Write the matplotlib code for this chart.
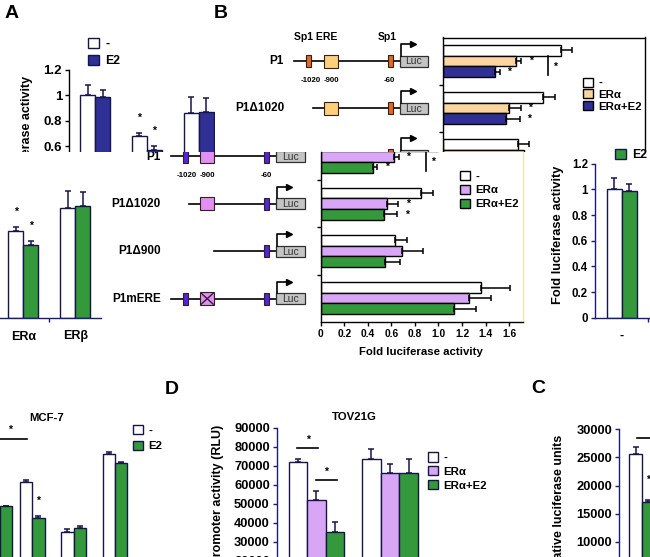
import numpy as np
import matplotlib.pyplot as plt
from matplotlib.patches import Rectangle

plt.rcParams['font.family'] = ['Liberation Sans', 'DejaVu Sans']
plt.rcParams['font.weight'] = 'bold'
plt.rcParams['axes.linewidth'] = 1.0

W, H = 650, 557

# ---------------------------------------------------------------------------
# Data
# ---------------------------------------------------------------------------
# Panel A: fold luciferase activity, shown in blue (top) and green (middle)
A_GROUPS = ['-', 'ERα', 'ERβ']
A_SERIES = ['-', 'E2']
A_CTRL = [1.0, 0.68, 0.86]
A_CTRL_ERR = [0.085, 0.027, 0.13]
A_E2 = [0.985, 0.57, 0.87]
A_E2_ERR = [0.06, 0.03, 0.11]
A_SIG = [(1, 0), (1, 1)]
A_YTICKS = [0, 0.2, 0.4, 0.6, 0.8, 1, 1.2]

# Panel B: promoter constructs
CONSTRUCTS = ['P1', 'P1Δ1020', 'P1Δ900', 'P1mERE']
B_SERIES = ['-', 'ERα', 'ERα+E2']
B_CTRL = [1.0, 0.85, 0.635, 1.365]
B_CTRL_ERR = [0.10, 0.105, 0.095, 0.245]
B_ERA = [0.62, 0.56, 0.69, 1.26]
B_ERA_ERR = [0.045, 0.10, 0.18, 0.185]
B_ERA_E2 = [0.445, 0.535, 0.55, 1.13]
B_ERA_E2_ERR = [0.035, 0.115, 0.125, 0.19]
B_SIG = [(0, 1), (0, 2), (1, 1), (1, 2)]
B_XTICKS = [0, 0.2, 0.4, 0.6, 0.8, 1.0, 1.2, 1.4, 1.6]
B_XTICKLABELS = ['0', '0.2', '0.4', '0.6', '0.8', '1.0', '1.2', '1.4', '1.6']

# MCF-7 (bottom left)
MCF7_POS = [0.21, 1, 2, 3]
MCF7_CTRL = [np.nan, 0.806, 0.468, 1.0]
MCF7_CTRL_ERR = [np.nan, 0.014, 0.02, 0.014]
MCF7_E2 = [0.646, 0.56, 0.495, 0.936]
MCF7_E2_ERR = [0.0, 0.016, 0.014, 0.007]

# TOV21G (panel D)
TOV_SERIES = ['-', 'ERα', 'ERα+E2']
TOV_CTRL = [71900, 73700]
TOV_CTRL_ERR = [1500, 5100]
TOV_ERA = [52000, 66300]
TOV_ERA_ERR = [4700, 4700]
TOV_ERA_E2 = [35100, 66300]
TOV_ERA_E2_ERR = [5400, 7200]
TOV_YTICKS = list(range(0, 90001, 10000))
TOV_COMPARE = [(0, 0, 1), (0, 1, 2)]

# Panel C
C_CTRL = [25550]
C_CTRL_ERR = [1250]
C_E2 = [17100]
C_E2_ERR = [300]
C_YTICKS = list(range(0, 30001, 5000))

WHITE = 'white'
BLUE = '#2f2f96'
GREEN = '#33993a'
PEACH = '#fbd5a0'
PINK = '#d9a6f5'
EDGE = '#15154a'
NAVY = '#1c1c78'
ORANGE = '#e2691e'
YELLOW = '#fccf78'
VIOLET = '#5522dd'
MAGENTA = '#e38ef3'

fig = plt.figure(figsize=(W / 100, H / 100), dpi=100)


def px_axes(x0, y0, x1, y1, z):
    ax = fig.add_axes([x0 / W, 1 - y1 / H, (x1 - x0) / W, (y1 - y0) / H])
    ax.set_zorder(z)
    return ax


def tile(x0, y0, x1, y1, z):
    bg = px_axes(x0, y0, x1, y1, z)
    bg.set_xlim(x0, x1)
    bg.set_ylim(y1, y0)
    bg.set_xticks([])
    bg.set_yticks([])
    for s in bg.spines.values():
        s.set_visible(False)
    bg.set_facecolor('white')
    return bg


def chart(x0, y0, x1, y1, z):
    ax = px_axes(x0, y0, x1, y1, z)
    ax.set_facecolor('none')
    for s in ax.spines.values():
        s.set_visible(False)
    ax.set_xticks([])
    ax.set_yticks([])
    return ax


def vgroup(ax, pos, series, errors, colors, width):
    pos = np.asarray(pos, float)
    n = len(series)
    handles, tops = [], []
    for i, (vals, err, col) in enumerate(zip(series, errors, colors)):
        x = pos + (i - (n - 1) / 2) * width
        vals = np.asarray(vals, float)
        err = np.asarray(err, float)
        ok = ~np.isnan(vals)
        b = ax.bar(x[ok], vals[ok], width, color=col, edgecolor=EDGE,
                   linewidth=1.0, zorder=2)
        ax.errorbar(x[ok], vals[ok], yerr=[np.zeros(ok.sum()), err[ok]],
                    fmt='none', ecolor=EDGE, elinewidth=1.1, capsize=2.2,
                    capthick=1.1, zorder=3)
        handles.append(b)
        tops.append((x, vals + err))
    return handles, tops


def hgroup(ax, pos, series, errors, colors, height):
    pos = np.asarray(pos, float)
    n = len(series)
    handles, tops = [], []
    for i, (vals, err, col) in enumerate(zip(series, errors, colors)):
        y = pos + (i - (n - 1) / 2) * height
        vals = np.asarray(vals, float)
        err = np.asarray(err, float)
        b = ax.barh(y, vals, height, color=col, edgecolor='black',
                    linewidth=1.0, zorder=2)
        ax.errorbar(vals, y, xerr=[np.zeros(len(vals)), err], fmt='none',
                    ecolor='black', elinewidth=1.1, capsize=2.0,
                    capthick=1.1, zorder=3)
        handles.append(b)
        tops.append((y, vals + err))
    return handles, tops


def star(ax, x, y, fs=7.5):
    ax.text(x, y, '*', ha='center', va='center', fontsize=fs, zorder=5)


def legend_at(ax, handles, labels, x, y, fs=8, spacing=0.25, hl=0.85):
    ax.legend(handles, labels, loc='upper left',
              bbox_to_anchor=(x / W, 1 - y / H), bbox_transform=fig.transFigure,
              frameon=False, borderpad=0, borderaxespad=0,
              handlelength=hl, handleheight=hl, handletextpad=0.5,
              labelspacing=spacing, prop=dict(weight='bold', size=fs))


def left_axis(ax, color, ticks, labels, size):
    ax.spines['left'].set_visible(True)
    ax.spines['left'].set_color(color)
    ax.set_yticks(ticks)
    ax.set_yticklabels(labels)
    ax.tick_params(axis='y', direction='out', length=3, width=1,
                   color=color, labelsize=size, pad=2)


# ---- construct diagrams ----
PARTS = {'P1': ('sp1a', 'ere', 'sp1b'), 'P1Δ1020': ('ere', 'sp1b'),
         'P1Δ900': ('sp1b',), 'P1mERE': ('sp1a', 'mere', 'sp1b')}
LINE_START = {'P1': 0, 'P1Δ1020': 18.5, 'P1Δ900': 43.5, 'P1mERE': 0}


def draw_constructs(bg, x0, y0, dy, sp1_col, ere_col, ymax):
    for k, name in enumerate(CONSTRUCTS):
        y = y0 + k * dy
        bg.plot([x0 + LINE_START[name], x0 + 105.5], [y, y], color='black',
                lw=1.2, zorder=1)
        for p in PARTS[name]:
            if p == 'sp1a':
                bg.add_patch(Rectangle((x0 + 12, y - 6), 5, 12, fc=sp1_col,
                                       ec='#302020', lw=0.8, zorder=2))
            elif p == 'sp1b':
                bg.add_patch(Rectangle((x0 + 93.5, y - 6), 5, 12, fc=sp1_col,
                                       ec='#302020', lw=0.8, zorder=2))
            else:
                bg.add_patch(Rectangle((x0 + 29.5, y - 6.5), 14, 13, fc=ere_col,
                                       ec='#302020', lw=0.8, zorder=2))
                if p == 'mere':
                    bg.plot([x0 + 30.5, x0 + 42.5], [y - 5.5, y + 5.5],
                            color='#302030', lw=1.0, zorder=3)
                    bg.plot([x0 + 30.5, x0 + 42.5], [y + 5.5, y - 5.5],
                            color='#302030', lw=1.0, zorder=3)
        bg.add_patch(Rectangle((x0 + 105.5, y - 5.5), 28.8, 11, fc='#c4c4c4',
                               ec='#303030', lw=0.9, zorder=2))
        bg.plot([x0 + 106.5, x0 + 106.5, x0 + 117], [y - 5.5, y - 17, y - 17],
                color='black', lw=1.2, zorder=2)
        bg.plot([x0 + 118.5], [y - 17], marker='>', ms=4.5, color='black',
                zorder=2)
        if y + 6 > ymax:
            continue
        bg.text(x0 + 120, y + 0.5, 'Luc', ha='center', va='center', fontsize=7.5,
                weight='normal', color='#333333', clip_on=True)
        bg.text(x0 - 10, y, name, ha='right', va='center', fontsize=8.5,
                clip_on=True)
        if k == 0:
            for dx, s in [(16.5, '-1020'), (37, '-900'), (95.5, '-60')]:
                bg.text(x0 + dx, y + 19, s, ha='center', va='center',
                        fontsize=5.7, clip_on=True)
            bg.text(x0, y - 24, 'Sp1 ERE', ha='left', va='center', fontsize=7.5,
                    clip_on=True)
            bg.text(x0 + 93, y - 24, 'Sp1', ha='center', va='center',
                    fontsize=7.5, clip_on=True)


def green_chart(ax):
    h, tops = vgroup(ax, np.arange(3), [A_CTRL, A_E2], [A_CTRL_ERR, A_E2_ERR],
                     [WHITE, GREEN], 0.29)
    ax.spines['bottom'].set_visible(True)
    ax.spines['bottom'].set_color(NAVY)
    ax.set_xticks(np.arange(3))
    ax.set_xticklabels(A_GROUPS)
    ax.set_xticks([0.5, 1.5], minor=True)
    ax.tick_params(axis='x', which='major', length=0, labelsize=9, pad=9)
    ax.tick_params(axis='x', which='minor', length=3, width=1, color=NAVY,
                   direction='out')
    ax.set_xlim(-0.516, 2.49)
    ax.set_ylim(0, 1.2)
    for g, s in A_SIG:
        star(ax, tops[s][0][g], tops[s][1][g] + 0.12)
    return h


# ---------------------------------------------------------------------------
# Tile 1: panel A (blue)
# ---------------------------------------------------------------------------
bg1 = tile(0, 0, 215, 152, 1)
bg1.text(12, 14, 'A', fontsize=14, ha='center', va='center')
bg1.text(27, 76, 'Fold luciferase activity', rotation=90, ha='center',
         va='top', fontsize=9)
axA = chart(69, 70, 224.6, 222.5, 2)
hA, topsA = vgroup(axA, np.arange(3), [A_CTRL, A_E2], [A_CTRL_ERR, A_E2_ERR],
                   [WHITE, BLUE], 0.29)
left_axis(axA, 'black', A_YTICKS, ['%g' % t for t in A_YTICKS], 9.5)
axA.set_xlim(-0.505, 2.5)
axA.set_ylim(0, 1.2)
for g, s in A_SIG:
    star(axA, topsA[s][0][g], topsA[s][1][g] + 0.12)
legend_at(axA, hA, A_SERIES, 88, 38, fs=8.8, spacing=0.35, hl=0.9)

# ---------------------------------------------------------------------------
# Tile 2: panel B top (peach / blue)
# ---------------------------------------------------------------------------
B_VALUES = [B_CTRL, B_ERA, B_ERA_E2]
B_ERRORS = [B_CTRL_ERR, B_ERA_ERR, B_ERA_E2_ERR]


def b_chart(ax, colors, ybottom, ytop):
    h, tops = hgroup(ax, np.arange(4), B_VALUES, B_ERRORS, colors, 0.225)
    ax.spines['left'].set_visible(True)
    ax.set_yticks([t for t in (0.5, 1.5, 2.5) if t < ybottom], minor=True)
    ax.tick_params(axis='y', which='minor', length=3, width=1, direction='out')
    ax.set_xlim(0, 1.716)
    ax.set_ylim(ybottom, ytop)
    for g, s in B_SIG:
        star(ax, tops[s][1][g] + 0.08, tops[s][0][g])
    xb = max(tops[1][1][0], tops[2][1][0]) + 0.23
    ax.plot([xb, xb], [tops[1][0][0] - 0.1, tops[2][0][0] + 0.08],
            color='black', lw=1.2, zorder=4)
    star(ax, xb + 0.055, 0.12)
    ax.set_ylim(ybottom, ytop)
    return h


bg2 = tile(215, 0, 650, 152, 3)
bg2.text(220.5, 14, 'B', fontsize=14, ha='center', va='center')
draw_constructs(bg2, 294, 61, 47.2, ORANGE, YELLOW, 152)
axB = chart(443, 37.5, 645, 152, 4)
hB = b_chart(axB, [WHITE, PEACH, BLUE], 1.936, -0.5)
axB.spines['top'].set_visible(True)
axB.spines['right'].set_visible(True)
legend_at(axB, hB, B_SERIES, 583, 77.5, fs=8.2, spacing=0.12, hl=0.85)

# ---------------------------------------------------------------------------
# Tile 3: green copy of panel A (left part)
# ---------------------------------------------------------------------------
bg3 = tile(0, 152, 108, 360, 5)
axG1 = chart(-55.1, 164, 100.5, 318, 6)
green_chart(axG1)

# ---------------------------------------------------------------------------
# Tile 4: panel B lower (pink / green)
# ---------------------------------------------------------------------------
bg4 = tile(108, 152, 545, 360, 7)
draw_constructs(bg4, 170.7, 156.5, 47.4, VIOLET, MAGENTA, 360)
bg4.text(421, 352, 'Fold luciferase activity', ha='center', va='center',
         fontsize=8.2)
axB2 = chart(320.7, 152, 522.7, 321.7, 8)
hB2 = b_chart(axB2, [WHITE, PINK, GREEN], 3.5, -0.098)
axB2.spines['bottom'].set_visible(True)
axB2.spines['right'].set_visible(True)
axB2.spines['right'].set_color('#eee9a6')
axB2.set_xticks(B_XTICKS)
axB2.set_xticklabels(B_XTICKLABELS)
axB2.tick_params(axis='x', direction='out', length=3, width=1, labelsize=7.4,
                 pad=2)
axB2.set_xlim(0, 1.716)
legend_at(axB2, hB2, B_SERIES, 460, 171, fs=8.2, spacing=0.3, hl=0.85)

# ---------------------------------------------------------------------------
# Tile 5: green copy of panel A (right part)
# ---------------------------------------------------------------------------
bg5 = tile(545, 152, 650, 360, 9)
bg5.text(558, 235, 'Fold luciferase activity', rotation=90, ha='center',
         va='center', fontsize=9.3)
axG2 = chart(595, 163.7, 750.6, 317.7, 10)
hG2 = green_chart(axG2)
left_axis(axG2, NAVY, A_YTICKS, ['%g' % t for t in A_YTICKS], 8.3)
axG2.set_ylim(0, 1.2)
legend_at(axG2, [hG2[1]], ['E2'], 615, 149, fs=8.8, spacing=0.3, hl=0.9)

# ---------------------------------------------------------------------------
# Tile 6: MCF-7
# ---------------------------------------------------------------------------
bg6 = tile(0, 360, 205, 557, 11)
bg6.text(47, 418, 'MCF-7', ha='center', va='center', fontsize=8.2)
bg6.text(171.5, 389, 'D', fontsize=14, ha='center', va='center')
axM = chart(0, 420, 205, 600, 12)
hM, topsM = vgroup(axM, MCF7_POS, [MCF7_CTRL, MCF7_E2],
                   [MCF7_CTRL_ERR, MCF7_E2_ERR], [WHITE, GREEN], 0.298)
axM.set_xlim(0.218, 5.18)
axM.set_ylim(0, 1.233)
star(axM, topsM[1][0][1], topsM[1][1][1] + 0.1)
xa, xb = topsM[0][0][0], topsM[0][0][1]
axM.plot([xa, xb + 0.01], [1.10, 1.10], color='black', lw=1.2,
         clip_on=False, zorder=4)
star(axM, (xa + xb) / 2, 1.165)
axM.set_xlim(0.218, 5.18)
axM.set_ylim(0, 1.233)
legend_at(axM, hM, A_SERIES, 133, 425, fs=8.2, spacing=0.45, hl=0.85)

# ---------------------------------------------------------------------------
# Tile 7: TOV21G
# ---------------------------------------------------------------------------
bg7 = tile(205, 360, 505, 557, 13)
bg7.text(354, 417, 'TOV21G', ha='center', va='center', fontsize=8.2)
bg7.text(218, 425, 'Luciferase promoter activity (RLU)', rotation=90,
         ha='center', va='top', fontsize=9)
axT = chart(276.7, 427.7, 470, 598.7, 14)
hT, topsT = vgroup(axT, [0, 1], [TOV_CTRL, TOV_ERA, TOV_ERA_E2],
                   [TOV_CTRL_ERR, TOV_ERA_ERR, TOV_ERA_E2_ERR],
                   [WHITE, PINK, GREEN], 0.252)
left_axis(axT, NAVY, TOV_YTICKS, [str(t) for t in TOV_YTICKS], 9.3)
for g, a, b in TOV_COMPARE:
    ya = max(topsT[a][1][g], topsT[b][1][g]) + 6000
    x1, x2 = topsT[a][0][g] - 0.01, topsT[b][0][g] + 0.025
    axT.plot([x1, x2], [ya, ya], color='black', lw=1.2, zorder=4)
    star(axT, (x1 + x2) / 2, ya + 4000)
axT.set_xlim(-0.54, 2.088)
axT.set_ylim(0, 90000)
legend_at(axT, hT, TOV_SERIES, 428, 452.5, fs=8.2, spacing=0.3, hl=0.85)

# ---------------------------------------------------------------------------
# Tile 8: panel C
# ---------------------------------------------------------------------------
bg8 = tile(505, 360, 650, 557, 15)
bg8.text(538.3, 388.3, 'C', fontsize=14, ha='center', va='center')
bg8.text(559, 435, 'Relative luciferase units', rotation=90, ha='center',
         va='top', fontsize=9)
axC = chart(619.3, 429.3, 716.7, 597.9, 16)
hC, topsC = vgroup(axC, [0], [C_CTRL, C_E2], [C_CTRL_ERR, C_E2_ERR],
                   [WHITE, GREEN], 0.248)
left_axis(axC, NAVY, C_YTICKS, [str(t) for t in C_YTICKS], 9.3)
axC.plot([topsC[0][0][0] + 0.02, 0.6], [28400, 28400], color='black', lw=1.2,
         zorder=4)
star(axC, topsC[1][0][0], topsC[1][1][0] + 3600)
axC.set_xlim(-0.448, 1.5)
axC.set_ylim(0, 30000)

fig.savefig('out.png', dpi=100)
